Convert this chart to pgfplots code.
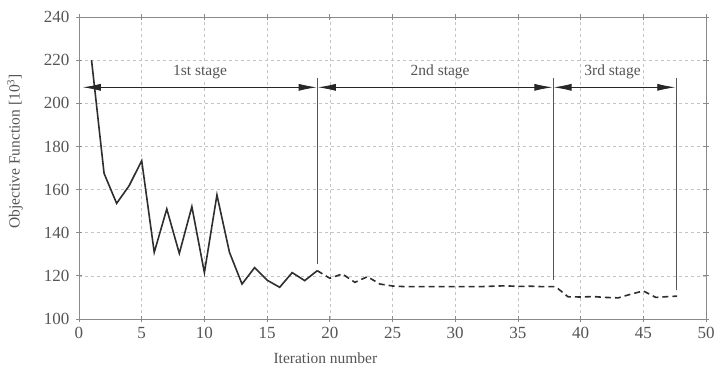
\documentclass[border=0pt]{standalone}
\usepackage{fontspec}
\setmainfont{Liberation Serif}
\usepackage{pgfplots}
\pgfplotsset{compat=1.18}
\usetikzlibrary{arrows.meta}
\definecolor{txt}{HTML}{555555}
\definecolor{gridc}{HTML}{C4C4C4}
\definecolor{axc}{HTML}{8A8A8A}
\definecolor{linec}{HTML}{2E2E2E}
\begin{document}
\begin{tikzpicture}
\useasboundingbox (-79pt,-54pt) rectangle (636pt,319pt);
\begin{axis}[
  scale only axis, width=627pt, height=302pt,
  xmin=0, xmax=50, ymin=100, ymax=240,
  xtick={0,5,...,50}, ytick={100,120,...,240},
  grid=major,
  major grid style={gridc, dash pattern=on 3pt off 3pt, line width=0.6pt},
  axis line style={axc, line width=0.8pt},
  tick style={axc, line width=0.8pt},
  tick align=center, major tick length=6pt,
  ticklabel style={font=\fontsize{17}{19}\selectfont, text=txt},
  xticklabel style={yshift=-2pt},
  yticklabel style={xshift=-3pt},
  /pgf/number format/assume math mode=true,
  xlabel={Iteration number}, ylabel={Objective Function [10\textsuperscript{3}]},
  label style={font=\fontsize{15.5}{17}\selectfont, text=txt},
  xlabel style={at={(axis description cs:0.393,0)}, anchor=center, yshift=-39pt},
  ylabel style={at={(axis description cs:0,0.555)}, anchor=center, yshift=64pt},
]
\addplot[linec, line width=1.6pt] coordinates {
(1,220) (2,167.5) (3,153.6) (4,161.8) (5,173.4) (6,130.9) (7,151) (8,130.4)
(9,152.1) (10,121.5) (11,157.5) (12,130.9) (13,116.2) (14,123.8) (15,118)
(16,114.7) (17,121.5) (18,117.8) (19,122.4)};
\addplot[linec, line width=1.6pt, dash pattern=on 6pt off 4pt] coordinates {
(19,122.4) (20,118.9) (21,120.9) (22,117) (23,119.6) (24,116.2) (25,115.3)
(26,115) (27,115) (28,115) (29,115) (30,115) (31,115) (32,115) (33,115.2)
(34,115.4) (35,115.1) (36,115.2) (37,115) (38,115) (39,110.3) (40,110.2)
(41,110.4) (42,110) (43,109.8) (44,111.5) (45,113) (46,110) (47,110.4) (47.7,110.6)};
% stage markers
\draw[txt, line width=0.8pt] (axis cs:19,125.5) -- (axis cs:19,211.7);
\draw[txt, line width=0.8pt] (axis cs:37.8,118.1) -- (axis cs:37.8,211.7);
\draw[txt, line width=0.8pt] (axis cs:47.6,113.4) -- (axis cs:47.6,211.7);
\draw[line width=0.8pt, {Latex[length=18pt,width=7pt]}-{Latex[length=18pt,width=7pt]}, black!85] (axis cs:0.3,207.4) -- (axis cs:18.95,207.4);
\draw[line width=0.8pt, {Latex[length=18pt,width=7pt]}-{Latex[length=18pt,width=7pt]}, black!85] (axis cs:19.05,207.4) -- (axis cs:37.75,207.4);
\draw[line width=0.8pt, {Latex[length=18pt,width=7pt]}-{Latex[length=18pt,width=7pt]}, black!85] (axis cs:37.85,207.4) -- (axis cs:47.55,207.4);
\node[fill=white, inner sep=2pt, text=txt, font=\fontsize{15.5}{17}\selectfont] at (axis cs:9.65,214.5) {1st stage};
\node[fill=white, inner sep=2pt, text=txt, font=\fontsize{15.5}{17}\selectfont] at (axis cs:28.8,214.5) {2nd stage};
\node[fill=white, inner sep=2pt, text=txt, font=\fontsize{15.5}{17}\selectfont] at (axis cs:42.55,214.5) {3rd stage};
\end{axis}
\end{tikzpicture}
\end{document}
